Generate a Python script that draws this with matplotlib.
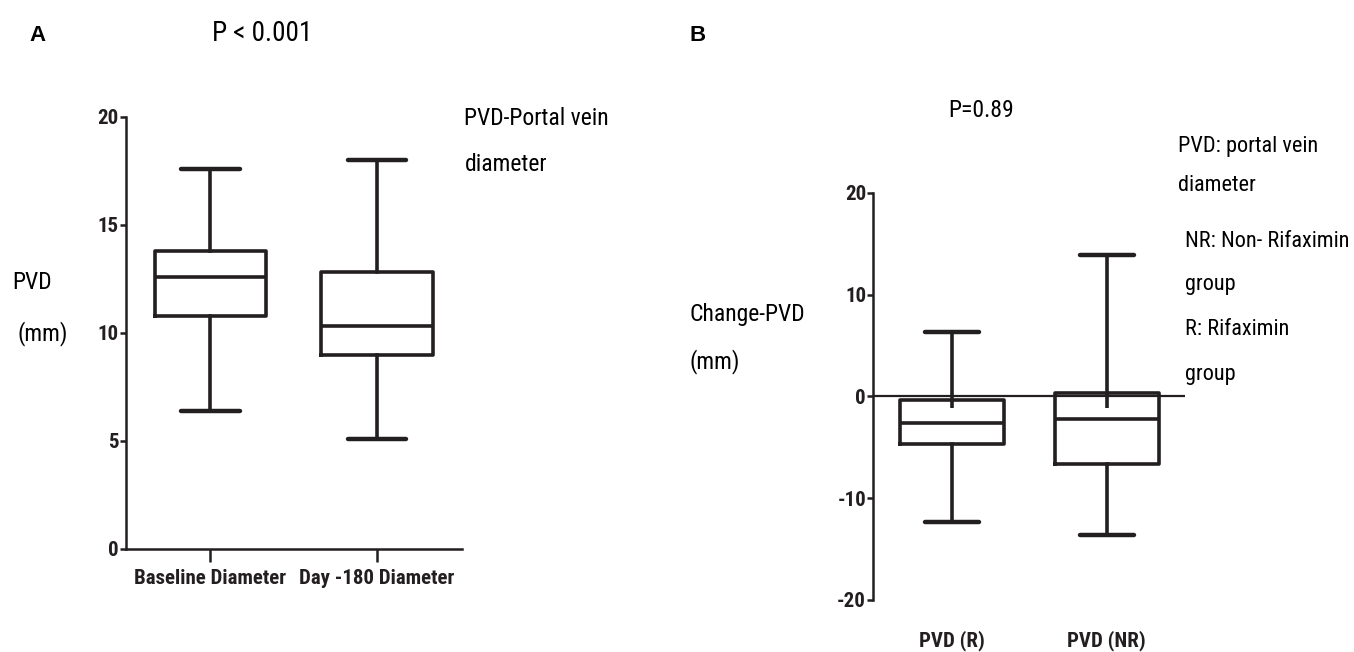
import matplotlib
matplotlib.use("Agg")
import matplotlib.pyplot as plt

plt.rcParams['font.family'] = ['Roboto Condensed', 'DejaVu Sans']
plt.rcParams['axes.unicode_minus'] = False

INK = '#231f20'

# panel A: portal vein diameter (mm)
a_labels = ["Baseline Diameter", "Day -180 Diameter"]
a_whislo = [6.4, 5.1]
a_q1 = [10.8, 9.0]
a_med = [12.6, 10.3]
a_q3 = [13.8, 12.8]
a_whishi = [17.6, 18.0]

# panel B: change in portal vein diameter (mm)
b_labels = ["PVD (R)", "PVD (NR)"]
b_whislo = [-12.3, -13.6]
b_q1 = [-4.7, -6.6]
b_med = [-2.6, -2.25]
b_q3 = [-0.4, 0.35]
b_whishi = [6.3, 13.9]
b_stub = [-1.1, -1.1]   # upper whisker pokes a little into the box


def stats(labels, lo, q1, med, q3, hi):
    return [dict(label=l, whislo=a, q1=b, med=c, q3=d, whishi=e, fliers=[])
            for l, a, b, c, d, e in zip(labels, lo, q1, med, q3, hi)]


def draw_box(ax, st):
    lw = 2.6
    ax.bxp(st, positions=[1, 2], widths=0.67, capwidths=0.35, showfliers=False,
           boxprops=dict(color=INK, linewidth=lw),
           whiskerprops=dict(color=INK, linewidth=lw),
           capprops=dict(color=INK, linewidth=lw + 0.6, solid_capstyle='round'),
           medianprops=dict(color=INK, linewidth=lw))


def style_ticks(ax):
    for t in ax.get_xticklabels() + ax.get_yticklabels():
        t.set_fontweight('bold')


fig = plt.figure(figsize=(13.54, 6.52), dpi=100)

# ---- panel A
axA = fig.add_axes([0.0927, 0.158, 0.2482, 0.6626])
draw_box(axA, stats(a_labels, a_whislo, a_q1, a_med, a_q3, a_whishi))
axA.set_xlim(0.49, 2.509)
axA.set_ylim(0, 20)
axA.set_yticks([0, 5, 10, 15, 20])
for s in ['top', 'right']:
    axA.spines[s].set_visible(False)
for s in ['left', 'bottom']:
    axA.spines[s].set_linewidth(1.8)
    axA.spines[s].set_color(INK)
axA.tick_params(axis='y', length=4, width=1.8, pad=1, labelsize=15, colors=INK)
axA.tick_params(axis='x', length=9.5, width=1.8, pad=5, labelsize=15, colors=INK)
style_ticks(axA)

fig.text(0.022, 0.945, "A", fontsize=16, fontweight='bold', family='Liberation Sans', va='center')
fig.text(0.1565, 0.949, "P < 0.001", fontsize=19.5, va='center')
fig.text(0.343, 0.819, "PVD-Portal vein", fontsize=17, va='center')
fig.text(0.343, 0.747, "diameter", fontsize=17, va='center')
fig.text(0.009, 0.567, "PVD", fontsize=17, va='center')
fig.text(0.0126, 0.489, "(mm)", fontsize=17, va='center')

# ---- panel B
axB = fig.add_axes([0.6448, 0.0798, 0.2304, 0.6246])
draw_box(axB, stats(b_labels, b_whislo, b_q1, b_med, b_q3, b_whishi))
axB.vlines([1, 2], b_stub, b_q3, color=INK, linewidth=2.6)
axB.axhline(0, color=INK, linewidth=1.6, zorder=0)
axB.set_xlim(0.492, 2.505)
axB.set_ylim(-20, 20)
axB.set_yticks([-20, -10, 0, 10, 20])
for s in ['top', 'right', 'bottom']:
    axB.spines[s].set_visible(False)
axB.spines['left'].set_linewidth(1.8)
axB.spines['left'].set_color(INK)
axB.tick_params(axis='y', length=4, width=1.8, pad=1, labelsize=15, colors=INK)
axB.tick_params(axis='x', length=0, pad=22, labelsize=15, colors=INK)
style_ticks(axB)

fig.text(0.509, 0.945, "B", fontsize=16, fontweight='bold', family='Liberation Sans', va='center')
fig.text(0.700, 0.830, "P=0.89", fontsize=17, va='center')
fig.text(0.870, 0.776, "PVD: portal vein", fontsize=16, va='center')
fig.text(0.870, 0.715, "diameter", fontsize=16, va='center')
fig.text(0.875, 0.630, "NR: Non- Rifaximin", fontsize=16, va='center')
fig.text(0.875, 0.563, "group", fontsize=16, va='center')
fig.text(0.875, 0.494, "R: Rifaximin", fontsize=16, va='center')
fig.text(0.875, 0.426, "group", fontsize=16, va='center')
fig.text(0.509, 0.518, "Change-PVD", fontsize=17, va='center')
fig.text(0.509, 0.446, "(mm)", fontsize=17, va='center')

fig.savefig("out.png", dpi=100)
